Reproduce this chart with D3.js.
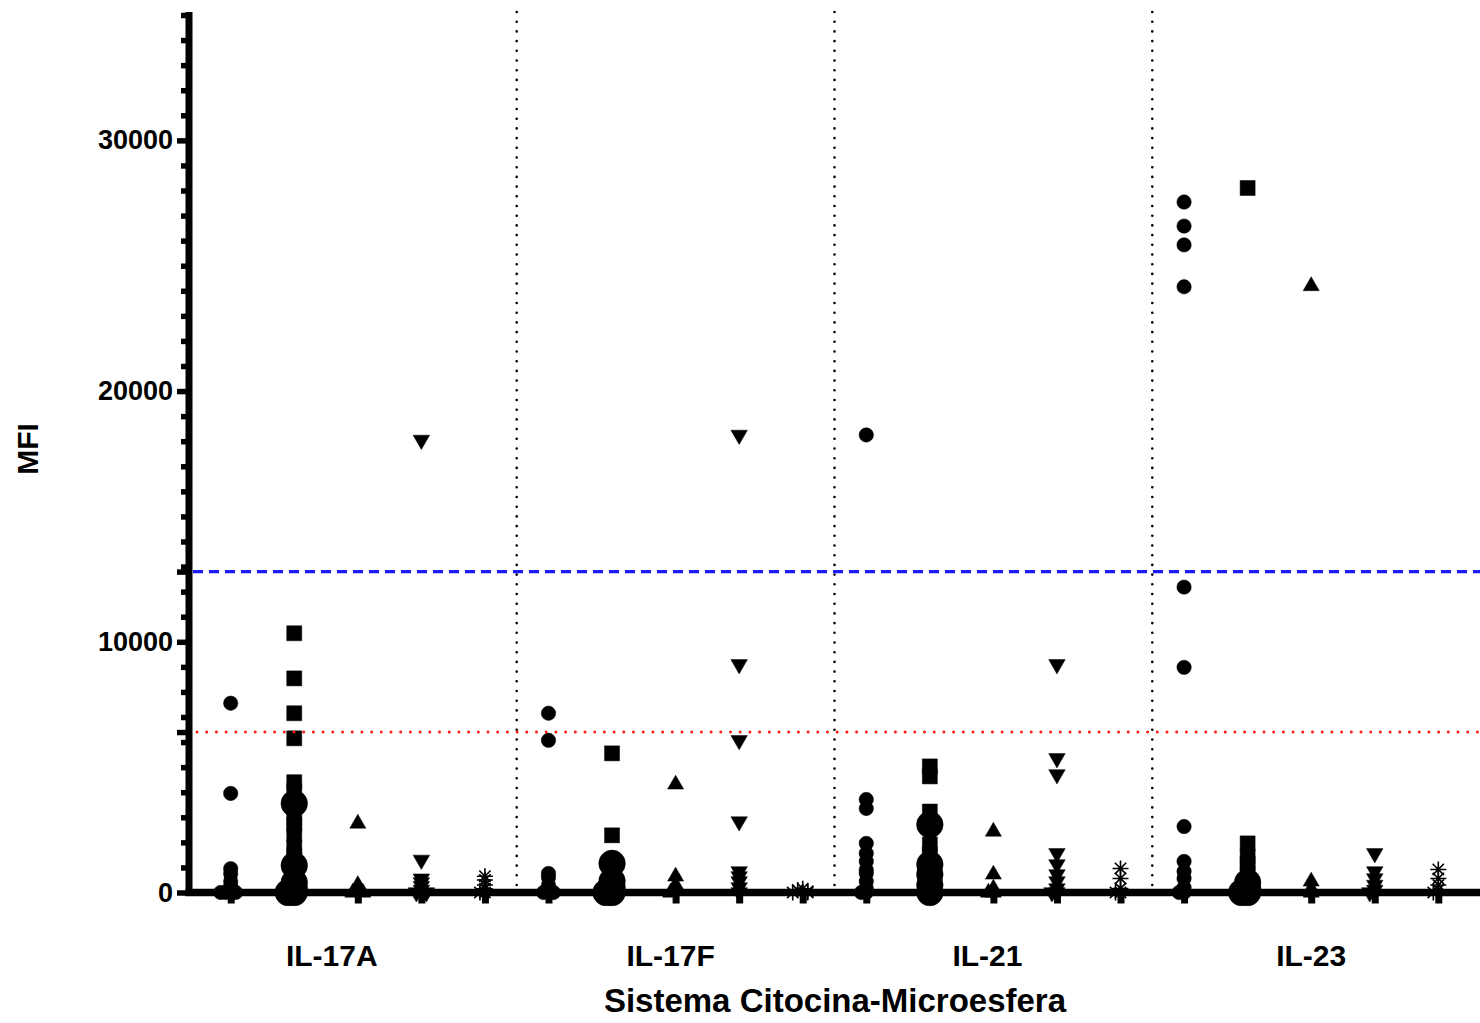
<!DOCTYPE html>
<html><head><meta charset="utf-8">
<script src="https://cdn.jsdelivr.net/npm/d3@7"></script>
<style>
body{margin:0;background:#fff}
svg{display:block}
text{font-family:"Liberation Sans",Arial,Helvetica,sans-serif;font-weight:bold;fill:#000}
</style>
</head><body>
<svg id="chart" width="1480" height="1023"></svg>
<script>
// ---------------- data ----------------
const groups = ["IL-17A", "IL-17F", "IL-21", "IL-23"];
const markerKinds = ["circle", "square", "triangle", "down", "asterisk"];

// values per group (IL-17A, IL-17F, IL-21, IL-23)
const circleValues = [
  [7550, 3950, 950, 750, 450, 250, 100, 0, 0, 0],
  [7150, 6070, 760, 600, 300, 100, 0, 0],
  [18250, 3710, 3350, 1960, 1560, 1240, 900, 760, 440, 160, 0, 0],
  [27540, 26580, 25830, 24160, 12180, 8980, 2630, 1240, 840, 560, 200, 0, 0]
];
const squareValues = [
  [10340, 8540, 7150, 6150, 4400, 4050, 2950, 2700, 2300, 1800, 1500, 1250, 900, 600, 300, 100, 0],
  [5550, 2280, 600, 300, 0],
  [5030, 4630, 3230, 1920, 1520, 800, 400, 0],
  [28100, 1960, 1440, 1160, 800, 400, 0]
];
const bigCircleValues = [
  [3550, 1080, 400, 150, 0, 0],
  [1160, 450, 200, 0, 0],
  [2710, 1120, 720, 300, 0],
  [400, 150, 0, 0]
];
const triangleValues = [
  [2750, 300, 100, 0, 0],
  [4310, 640, 300, 100, 0],
  [2430, 720, 160, 0, 0],
  [24190, 440, 150, 0]
];
const downTriangleValues = [
  [18050, 1300, 550, 400, 250, 100, 0, 0],
  [18250, 9100, 6070, 2830, 840, 640, 440, 200, 0],
  [9100, 5350, 4710, 1560, 1120, 720, 440, 160, 0, 0],
  [1560, 840, 560, 300, 100, 0]
];
const asteriskValues = [
  [650, 500, 300, 150, 0, 0],
  [150, 100, 50, 0, 0],
  [960, 560, 160, 0, 0],
  [920, 560, 300, 100, 0]
];

const yMajorTicks = [0, 10000, 20000, 30000];
const yMax = 35000;
const lowerCut = 6400;   // red dotted
const upperCut = 12800;  // blue dashed
const xTitle = "Sistema Citocina-Microesfera";
const yTitle = "MFI";

// ---------------- layout ----------------
const svg = d3.select("#chart");
const axisX = 189, axisY = 892.5, rightEdge = 1480;
const columnKeys = [];
groups.forEach(g => markerKinds.forEach(k => columnKeys.push(g + "|" + k)));

const x = d3.scalePoint().domain(columnKeys).range([axisX, rightEdge]).padding(0.656);
const y = d3.scaleLinear().domain([0, yMax]).range([axisY, 15]);

// custom asterisk symbol
const symbolAsterisk = {
  draw(ctx, size) {
    const r = Math.sqrt(size) / 2;
    for (let i = 0; i < 4; i++) {
      const a = i * Math.PI / 4;
      ctx.moveTo(-r * Math.cos(a), -r * Math.sin(a));
      ctx.lineTo(r * Math.cos(a), r * Math.sin(a));
    }
  }
};

const kindStyle = {
  circle:   {type: d3.symbolCircle,   size: 163, rot: 0,   fill: true},
  square:   {type: d3.symbolSquare,   size: 225, rot: 0,   fill: true},
  triangle: {type: d3.symbolTriangle, size: 112, rot: 0,   fill: true},
  down:     {type: d3.symbolTriangle, size: 118, rot: 180, fill: true},
  asterisk: {type: symbolAsterisk,    size: 256, rot: 0,   fill: false},
  big:      {type: d3.symbolCircle,   size: 556, rot: 0,   fill: true}
};

// build point list
const points = [];
const seriesList = [
  ["circle", circleValues, "circle"],
  ["square", squareValues, "square"],
  ["big", bigCircleValues, "square"],
  ["triangle", triangleValues, "triangle"],
  ["down", downTriangleValues, "down"],
  ["asterisk", asteriskValues, "asterisk"]
];
seriesList.forEach(([kind, vals, col]) => {
  groups.forEach((g, gi) => {
    const placed = [];
    vals[gi].forEach(v => {
      const py = y(v);
      const k = placed.filter(p => Math.abs(p - py) < 3).length;
      placed.push(py);
      const step = kind === "big" ? 6 : 5;
      const off = k === 0 ? 0 : (k % 2 ? -1 : 1) * Math.min(Math.ceil(k / 2), 2) * step;
      points.push({kind, x: x(g + "|" + col) + off, y: py});
    });
  });
});

// markers
const mg = svg.append("g");
mg.selectAll("path").data(points).join("path")
  .attr("transform", d => `translate(${d.x},${d.y}) rotate(${kindStyle[d.kind].rot})`)
  .attr("d", d => d3.symbol(kindStyle[d.kind].type, kindStyle[d.kind].size)())
  .attr("fill", d => kindStyle[d.kind].fill ? "#000" : "none")
  .attr("stroke", "#000")
  .attr("stroke-width", d => kindStyle[d.kind].fill ? 0.5 : 1.6);

// group dividers
const dividerXs = groups.slice(1).map((g, i) => (x(groups[i] + "|asterisk") + x(g + "|circle")) / 2);
svg.append("g").selectAll("line").data(dividerXs).join("line")
  .attr("x1", d => d).attr("x2", d => d)
  .attr("y1", 12).attr("y2", axisY)
  .attr("stroke", "#000").attr("stroke-width", 2.6)
  .attr("stroke-linecap", "round").attr("stroke-dasharray", "0 9.7");

// threshold lines
svg.append("line")
  .attr("x1", axisX + 8).attr("x2", rightEdge)
  .attr("y1", y(lowerCut)).attr("y2", y(lowerCut))
  .attr("stroke", "#ff1a1a").attr("stroke-width", 3)
  .attr("stroke-linecap", "round").attr("stroke-dasharray", "0 9.7");
svg.append("line")
  .attr("x1", axisX + 4).attr("x2", rightEdge)
  .attr("y1", y(upperCut)).attr("y2", y(upperCut))
  .attr("stroke", "#1a1aff").attr("stroke-width", 3.2)
  .attr("stroke-dasharray", "10 6");

// y axis
const minorTicks = d3.range(1000, yMax + 1, 1000).filter(v => !yMajorTicks.includes(v));
const yMinor = svg.append("g").attr("transform", `translate(${axisX},0)`)
  .call(d3.axisLeft(y).tickValues(minorTicks).tickSize(8).tickFormat(""));
const yCut = svg.append("g").attr("transform", `translate(${axisX},0)`)
  .call(d3.axisLeft(y).tickValues([lowerCut, upperCut]).tickSize(12).tickFormat(""));
const yMajor = svg.append("g").attr("transform", `translate(${axisX},0)`)
  .call(d3.axisLeft(y).tickValues(yMajorTicks).tickSize(12).tickPadding(4).tickFormat(d3.format("d")));
[yMinor, yCut, yMajor].forEach(a => {
  a.select(".domain").remove();
  a.selectAll(".tick line").attr("stroke", "#000").attr("stroke-width", 5.5);
});
yMajor.selectAll(".tick text").attr("font-size", 27).attr("fill", "#000")
  .style("font-family", '"Liberation Sans",Arial,sans-serif').style("font-weight", "bold");

// x axis
const xAxis = svg.append("g").attr("transform", `translate(0,${axisY})`)
  .call(d3.axisBottom(x).tickSize(11).tickFormat(""));
xAxis.select(".domain").remove();
xAxis.selectAll(".tick line").attr("stroke", "#000").attr("stroke-width", 7);

// axis lines
svg.append("line").attr("x1", axisX).attr("x2", axisX).attr("y1", 12).attr("y2", axisY + 3.5)
  .attr("stroke", "#000").attr("stroke-width", 7);
svg.append("line").attr("x1", axisX - 3.5).attr("x2", rightEdge).attr("y1", axisY).attr("y2", axisY)
  .attr("stroke", "#000").attr("stroke-width", 7.5);

// group labels
const labelNudge = [-26, -5, -6, 0];
svg.append("g").selectAll("text").data(groups).join("text")
  .attr("x", (g, i) => x(g + "|triangle") + labelNudge[i])
  .attr("y", 966)
  .attr("text-anchor", "middle")
  .attr("font-size", 30)
  .text(d => d);

// axis titles
svg.append("text").attr("x", 835).attr("y", 1012).attr("text-anchor", "middle")
  .attr("font-size", 33).text(xTitle);
svg.append("text").attr("transform", "translate(38,449) rotate(-90)")
  .attr("text-anchor", "middle").attr("font-size", 30).text(yTitle);
</script>
</body></html>
